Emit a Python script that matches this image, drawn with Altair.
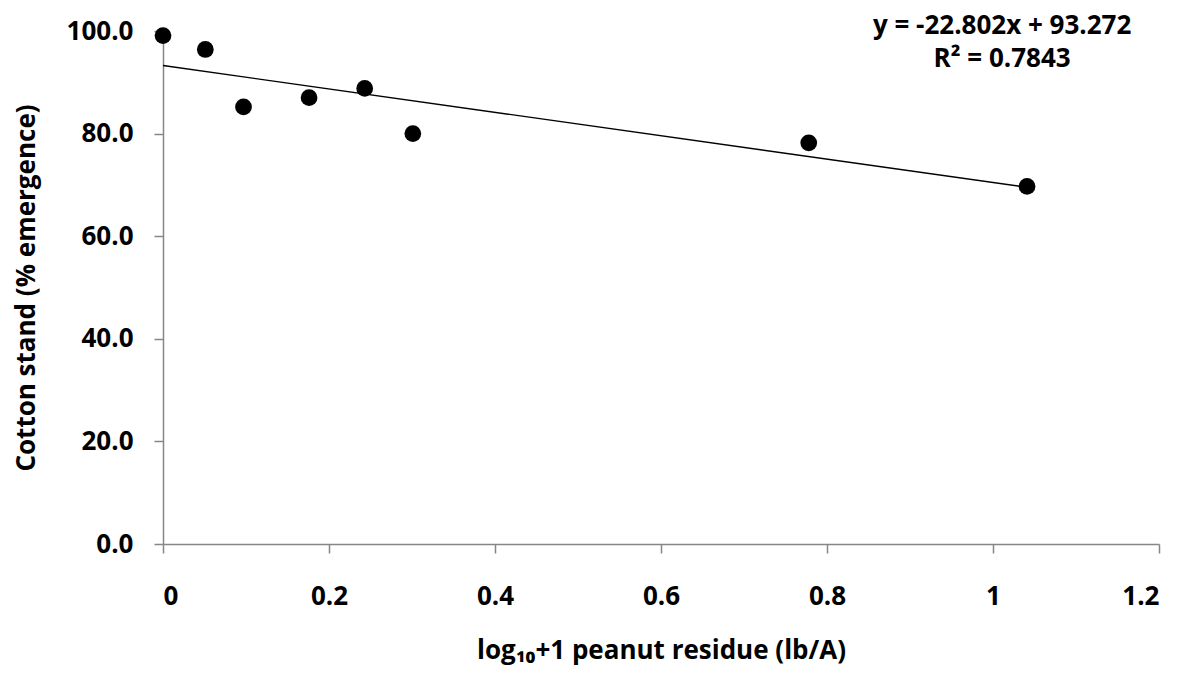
import altair as alt
import pandas as pd

# Observed data (log10(residue+1), % emergence)
x_vals = [0.0, 0.051, 0.097, 0.176, 0.243, 0.301, 0.778, 1.041]
y_vals = [99.1, 96.4, 85.2, 87.0, 88.8, 80.0, 78.2, 69.7]

# Regression from the chart annotation
slope = -22.802
intercept = 93.272
r2 = 0.7843

x_ticks = [0, 0.2, 0.4, 0.6, 0.8, 1.0, 1.2]
y_ticks = [0, 20, 40, 60, 80, 100]

eq_lines = ["y = -22.802x + 93.272", "R\u00b2 = 0.7843"]
eq_x = [1.011, 1.011]
eq_y = [101.0, 94.6]

FONT = "Open Sans"

pts = pd.DataFrame({"x": x_vals, "y": y_vals})
fit = pd.DataFrame({"x": [min(x_vals), max(x_vals)]})
fit["y"] = slope * fit["x"] + intercept
ann = pd.DataFrame({"x": eq_x, "y": eq_y, "t": eq_lines})

xscale = alt.Scale(domain=[0, 1.2], nice=False, zero=False)
yscale = alt.Scale(domain=[0, 100], nice=False)

xaxis = alt.Axis(
    title="log\u2081\u2080+1 peanut residue (lb/A)",
    values=x_ticks, format="~g", grid=False,
    domainColor="#868686", tickColor="#868686", domainWidth=1.5, tickWidth=1.5,
    tickSize=9, labelFontSize=26, labelFont=FONT, labelFontWeight="bold",
    labelColor="black", labelPadding=30, titleFontSize=26, titleFont=FONT,
    titleFontWeight="bold", titleColor="black", titlePadding=28,
)
yaxis = alt.Axis(
    title="Cotton stand (% emergence)",
    values=y_ticks, format=".1f", grid=False,
    domainColor="#868686", tickColor="#868686", domainWidth=1.5, tickWidth=1.5,
    tickSize=9, labelFontSize=26, labelFont=FONT, labelFontWeight="bold",
    labelColor="black", labelPadding=21, titleFontSize=26, titleFont=FONT,
    titleFontWeight="bold", titleColor="black", titlePadding=27,
)

line = alt.Chart(fit).mark_line(color="black", strokeWidth=1.4).encode(
    x=alt.X("x:Q", scale=xscale, axis=xaxis),
    y=alt.Y("y:Q", scale=yscale, axis=yaxis),
)
points = alt.Chart(pts).mark_circle(color="black", opacity=1, size=280).encode(
    x=alt.X("x:Q", scale=xscale),
    y=alt.Y("y:Q", scale=yscale),
)
text = alt.Chart(ann).mark_text(
    font=FONT, fontSize=26, fontWeight="bold", color="black", align="center", baseline="middle", clip=False
).encode(
    x=alt.X("x:Q", scale=xscale),
    y=alt.Y("y:Q", scale=yscale),
    text="t:N",
)

chart = alt.layer(line, points, text).properties(
    width=996, height=513,
    autosize=alt.AutoSizeParams(type="none"),
    padding={"left": 155, "top": 23, "right": 20, "bottom": 123},
).configure_view(stroke=None)

chart.save("out.html", embed_options={"renderer": "svg", "actions": False})
